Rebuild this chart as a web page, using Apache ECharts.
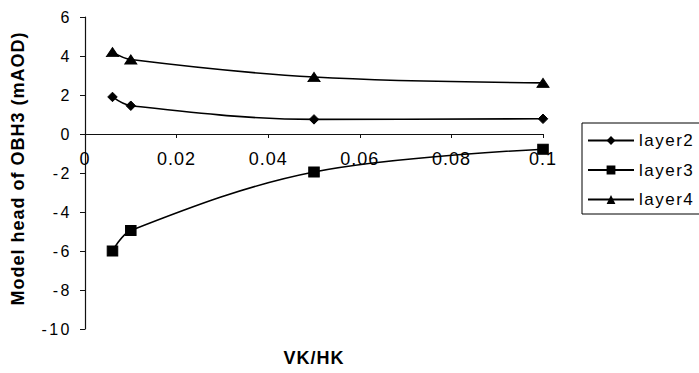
<!DOCTYPE html>
<html>
<head>
<meta charset="utf-8">
<script src="https://cdn.jsdelivr.net/npm/echarts@6/dist/echarts.min.js"></script>
<style>
  html, body { margin: 0; padding: 0; background: #fff; overflow: hidden; }
  #chart { width: 699px; height: 373px; }
</style>
</head>
<body>
<div id="chart"></div>
<script>
// VK/HK ratios tested
const ratios = [0.006, 0.01, 0.05, 0.1];
// Model head of OBH3 (mAOD) per layer
const layer2 = [1.9, 1.45, 0.75, 0.78];
const layer3 = [-6.0, -4.95, -1.95, -0.78];
const layer4 = [4.2, 3.82, 2.92, 2.62];

const seriesNames = ['layer2', 'layer3', 'layer4'];
const seriesValues = [layer2, layer3, layer4];
const seriesSymbols = ['diamond', 'rect', 'triangle'];
const symbolSizes = [[9.5, 9.5], [10.5, 10], [12, 9]];

const xTitle = 'VK/HK';
const yTitle = 'Model head of OBH3 (mAOD)';

const font = '"Liberation Sans", Arial, sans-serif';

const chart = echarts.init(document.getElementById('chart'), null, { renderer: 'svg' });

chart.setOption({
  backgroundColor: '#fff',
  animation: false,
  textStyle: { fontFamily: font, color: '#000' },
  grid: { left: 85, right: 156, top: 17, bottom: 44, containLabel: false, outerBoundsMode: 'none' },
  legend: {
    orient: 'vertical',
    left: 582,
    top: 123,
    padding: [9, 16, 6, 5],
    itemWidth: 46,
    itemHeight: 11,
    itemGap: 12.5,
    borderColor: '#000',
    borderWidth: 1,
    borderRadius: 0,
    backgroundColor: '#fff',
    textStyle: { fontFamily: font, fontSize: 17, color: '#000' },
    data: seriesNames
  },
  xAxis: {
    type: 'value',
    min: 0,
    max: 0.1,
    interval: 0.02,
    name: xTitle,
    nameLocation: 'middle',
    nameGap: 215,
    nameTextStyle: { fontFamily: font, fontSize: 18, fontWeight: 'bold', color: '#000' },
    // axis sits on the y = 0 line
    offset: -195,
    axisLine: { onZero: false, lineStyle: { color: '#111', width: 1 } },
    axisTick: { show: true, inside: false, length: 4, lineStyle: { color: '#111' } },
    axisLabel: { fontFamily: font, fontSize: 18, color: '#000', margin: 16 },
    splitLine: { show: false }
  },
  yAxis: {
    type: 'value',
    min: -10,
    max: 6,
    interval: 2,
    name: yTitle,
    nameLocation: 'middle',
    nameGap: 58,
    nameTextStyle: { fontFamily: font, fontSize: 18, fontWeight: 'bold', color: '#000', padding: [0, 0, 0, 9] },
    axisLine: { show: true, onZero: false, lineStyle: { color: '#111', width: 1.2 } },
    axisTick: { show: true, inside: false, length: 5, lineStyle: { color: '#111' } },
    axisLabel: { fontFamily: font, fontSize: 16, color: '#000', margin: 13 },
    splitLine: { show: false }
  },
  series: seriesNames.map((name, i) => ({
    name: name,
    type: 'line',
    smooth: 0.35,
    symbol: seriesSymbols[i],
    symbolSize: symbolSizes[i],
    showAllSymbol: true,
    lineStyle: { color: '#000', width: 1.6 },
    itemStyle: { color: '#000', borderColor: '#000' },
    data: ratios.map((x, j) => [x, seriesValues[i][j]])
  }))
});

// widen the character spacing of the rendered texts
function spaceTexts() {
  const xLabels = ['0', '0.02', '0.04', '0.06', '0.08', '0.1'];
  document.querySelectorAll('#chart text').forEach(t => {
    const s = t.textContent;
    let ls = '2.5px';
    if (s === xTitle || s === yTitle) ls = '1px';
    else if (seriesNames.indexOf(s) >= 0) ls = '1.5px';
    else if (xLabels.indexOf(s) >= 0 && t.getAttribute('text-anchor') === 'middle') ls = '1px';
    t.style.letterSpacing = ls;
  });
}
spaceTexts();
chart.on('finished', spaceTexts);
</script>
</body>
</html>
